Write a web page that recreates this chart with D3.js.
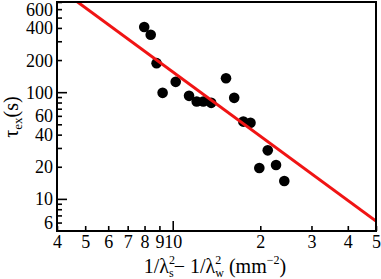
<!DOCTYPE html>
<html><head><meta charset="utf-8">
<script src="https://cdn.jsdelivr.net/npm/d3@7"></script>
<style>body{margin:0;background:#fff}svg{display:block}text{font-family:"Liberation Serif","Times New Roman",serif;fill:#000}</style>
</head><body>
<svg id="c" width="381" height="279"></svg>
<script>
// data
const xValues = [7.98, 8.40, 8.80, 9.23, 10.24, 11.38, 12.09, 12.74, 13.56, 15.25, 16.27, 17.49, 18.51, 21.22, 19.85, 22.66, 24.19];
const yValues = [408, 345, 187, 98.6, 125, 92.4, 81.8, 81.8, 79.4, 135, 88.5, 53.0, 51.7, 28.5, 19.5, 20.8, 14.7];
const fitX = [4, 50];
const fitY = [969, 6.2];
const xTicks = [4, 5, 6, 7, 8, 9, 10, 20, 30, 40, 50];
const xTickLabels = ["4", "5", "6", "7", "8", "9", "10", "2", "3", "4", "5"];
const xMajor = [10];
const yTicks = [6, 7, 8, 9, 10, 20, 30, 40, 50, 60, 70, 80, 90, 100, 200, 300, 400, 500, 600, 700];
const yLabelTicks = [6, 10, 20, 40, 60, 100, 200, 400, 600];
const yMajor = [10, 100];

const L = 57, R = 376, T = 2, B = 231;
const svg = d3.select("#c");
const x = d3.scaleLog().domain([4, 50]).range([L, R]);
const y = d3.scaleLog().domain([5, 700]).range([B, T]);

svg.append("clipPath").attr("id", "clip").append("rect")
  .attr("x", L).attr("y", T).attr("width", R - L).attr("height", B - T);

// points
svg.append("g").selectAll("circle").data(xValues).join("circle")
  .attr("cx", (d) => x(d)).attr("cy", (d, i) => y(yValues[i])).attr("r", 5.3).attr("fill", "#000");

// fit line
svg.append("path").attr("clip-path", "url(#clip)")
  .datum(fitX.map((d, i) => [d, fitY[i]]))
  .attr("d", d3.line().x(d => x(d[0])).y(d => y(d[1])))
  .attr("stroke", "#f01414").attr("stroke-width", 3).attr("fill", "none");

// axes (ticks inside)
const xAxis = d3.axisBottom(x).tickValues(xTicks).tickFormat((d, i) => xTickLabels[i])
  .tickSizeInner(-5).tickSizeOuter(0).tickPadding(7);
const gx = svg.append("g").attr("transform", `translate(0,${B})`).call(xAxis);
gx.selectAll(".tick line").attr("y2", d => xMajor.includes(d) ? -10 : -5);
const yAxis = d3.axisLeft(y).tickValues(yTicks).tickFormat(d => yLabelTicks.includes(d) ? String(d) : "")
  .tickSizeInner(-5).tickSizeOuter(0).tickPadding(9);
const gy = svg.append("g").attr("transform", `translate(${L},0)`).call(yAxis);
gy.selectAll(".tick line").attr("x2", d => yMajor.includes(d) ? 10 : 5);
[gx, gy].forEach(g => {
  g.select(".domain").remove();
  g.selectAll(".tick line").attr("stroke", "#000").attr("stroke-width", 1.6);
  g.selectAll(".tick text").attr("font-size", 18).attr("font-family", "Liberation Serif").attr("fill", "#000");
});
gx.selectAll(".tick text").attr("dy", "0.71em").attr("y", 4);
gy.selectAll(".tick text").attr("dy", "0.33em").attr("x", -4);

// frame
svg.append("rect").attr("x", L).attr("y", T).attr("width", R - L).attr("height", B - T)
  .attr("fill", "none").attr("stroke", "#000").attr("stroke-width", 2);

// y title
const yt = svg.append("text").attr("transform", "translate(18,117) rotate(-90)")
  .attr("text-anchor", "middle").attr("font-size", 20);
yt.append("tspan").text("τ");
yt.append("tspan").attr("font-size", 13).attr("dy", 4).text("ex");
yt.append("tspan").attr("dy", -4).text("(s)");

// x title
const xt = svg.append("text").attr("x", 0).attr("y", 273).attr("font-size", 20);
xt.append("tspan").text("1/λ");
xt.append("tspan").attr("font-size", 12).attr("dy", -9).text("2");
xt.append("tspan").attr("font-size", 12).attr("dx", -6).attr("dy", 13).text("s");
xt.append("tspan").attr("dy", -4).text("\u2212 1/λ");
xt.append("tspan").attr("font-size", 12).attr("dy", -9).text("2");
xt.append("tspan").attr("font-size", 12).attr("dx", -6).attr("dy", 13).text("w");
xt.append("tspan").attr("dy", -4).text(" (mm");
xt.append("tspan").attr("font-size", 12).attr("dy", -9).text("\u22122");
xt.append("tspan").attr("dy", 9).text(")");
const w = xt.node().getComputedTextLength();
xt.attr("x", 221 - w / 2);
</script>
</body></html>
